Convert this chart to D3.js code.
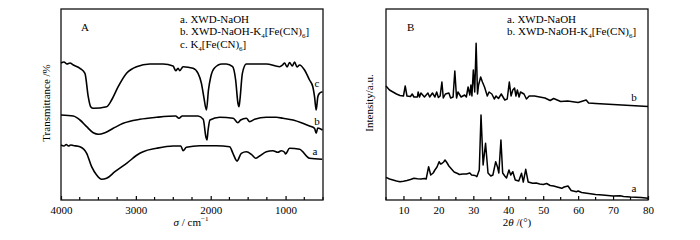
<!DOCTYPE html>
<html>
<head>
<meta charset="utf-8">
<script src="https://cdn.jsdelivr.net/npm/d3@7"></script>
<style>
  body { margin: 0; background: #fff; }
  svg { display: block; font-family: "Liberation Serif", "Times New Roman", serif; }
</style>
</head>
<body>
<svg id="chart" width="700" height="240"></svg>
<script>
// ---- Panel A: FTIR, wavenumber (cm-1) vs transmittance (offset, arbitrary) ----
const irWaveA = [4000, 3960, 3930, 3900, 3870, 3836, 3747, 3657, 3591, 3524, 3457, 3391, 3280, 3124, 2947, 2903, 2724, 2503, 2400, 2369, 2324, 2147, 1924, 1747, 1703, 1649, 1591, 1524, 1457, 1400, 1347, 1257, 1169, 1103, 1057, 1013, 1000, 947, 813, 680, 511];
const irValA  = [55, 54, 55.5, 54, 55, 54.5, 53.3, 46.7, 33.3, 25, 20.7, 21.7, 28.3, 36.7, 46.7, 48.3, 51.7, 54, 54, 49.3, 52.7, 54.3, 54.3, 53.3, 46.7, 39, 46.7, 48.3, 45.7, 41.7, 44, 48.3, 49.3, 47.7, 49.3, 47.7, 46, 51.7, 50.7, 41.7, 40.7];

const irWaveB = [4000, 3836, 3747, 3657, 3569, 3500, 3413, 3302, 3169, 2947, 2724, 2469, 2424, 2380, 2169, 2100, 2065, 2050, 2035, 2010, 1880, 1700, 1636, 1600, 1524, 1480, 1413, 1257, 1124, 1035, 900, 770, 680, 613, 591, 570, 507];
const irValB  = [85, 84, 80, 73.3, 67.3, 65.7, 67.3, 71.7, 76.7, 80.7, 82.7, 84, 81.7, 84, 84, 80.7, 63.3, 60, 70, 80, 82.7, 81.7, 77.3, 80, 81.7, 78.3, 80.7, 82.7, 82.7, 81.7, 80, 76.7, 74, 71.7, 66.7, 72, 70];

const irWaveC = [4000, 3960, 3920, 3880, 3836, 3747, 3680, 3636, 3604, 3569, 3391, 3324, 3236, 3124, 2991, 2813, 2636, 2503, 2467, 2436, 2413, 2369, 2236, 2169, 2124, 2093, 2057, 2030, 2000, 1950, 1850, 1791, 1707, 1667, 1636, 1623, 1610, 1577, 1524, 1257, 1080, 1040, 1013, 980, 947, 910, 880, 847, 813, 747, 680, 636, 613, 591, 569, 547, 507];
const irValC  = [137, 138, 136, 137, 135, 131.7, 126.7, 103.3, 93.3, 91.7, 93.3, 100, 113.3, 126.7, 133.3, 136, 136, 134, 129.3, 131.7, 129.3, 133.3, 131.7, 126.7, 116.7, 103.3, 90, 110, 123, 132, 136, 136, 133.3, 120, 96.7, 93.3, 100, 126.7, 136, 136, 133.3, 135, 137, 133, 137.5, 134, 138, 133, 135, 130, 120, 113.3, 103.3, 90, 103.3, 106.7, 108.3];

const irTicksMajor = [4000, 3000, 2000, 1000];
const irLegend = ["a", "b", "c"];

// ---- Panel B: XRD, 2theta (deg) vs intensity (offset, arbitrary) ----
const xrdAngleA = [5, 6, 7, 8, 9, 10, 11, 12, 13, 14, 15, 16, 16.5, 17.2, 17.8, 18.5, 19, 19.6, 20.2, 20.6, 21, 21.5, 21.9, 22.5, 23, 24, 24.5, 25.5, 26, 27, 28, 29, 29.5, 30.5, 31, 31.7, 32.2, 32.8, 33.5, 34.2, 35, 35.6, 36.4, 36.9, 37.3, 37.9, 38.4, 39, 39.5, 40.2, 40.7, 41.3, 42, 43, 43.8, 44.3, 45, 45.7, 47, 48, 49, 50, 51, 52, 53, 54, 55.3, 56, 57.1, 58, 59.5, 60, 61, 63, 65, 67, 70, 72, 73, 75, 78, 80];
const xrdValA   = [22.7, 21, 20, 19, 18.3, 18.8, 19.5, 20.5, 21.7, 21.2, 21, 21.5, 21, 33.3, 25, 27, 30, 33, 38.3, 36, 36.5, 38, 40, 37, 34, 30, 28, 26.5, 25.5, 26, 26, 27, 25, 24.5, 23.3, 30, 85, 35, 56.7, 27, 24, 25, 38.3, 33.3, 27, 60, 27, 24, 22, 30, 25, 28.3, 20, 19, 26.7, 18, 30.7, 18, 16.7, 17, 16, 15.5, 16.5, 14.5, 14, 13, 11.7, 13, 14, 9.5, 8.3, 9, 7.5, 6.5, 5.5, 5, 4, 4.3, 3.5, 3, 2.5, 1.7];

const xrdAngleB = [5, 6, 7, 8, 9, 10, 10.5, 11, 12, 12.5, 13, 14, 14.2, 14.6, 15, 16, 17, 17.5, 18.3, 19, 19.5, 20, 20.5, 21, 21.4, 22, 23, 23.5, 24.2, 24.7, 25.2, 25.6, 26.5, 27.5, 28, 28.5, 29, 29.3, 29.6, 30, 30.4, 30.8, 31.2, 31.5, 32.1, 32.6, 33.2, 34, 34.5, 35.3, 36, 36.5, 37.2, 38, 39, 39.7, 40.3, 40.8, 41.3, 41.8, 42.2, 42.6, 43.1, 43.5, 44.5, 45.2, 46, 47.5, 49, 50.5, 52, 53, 55, 57, 60, 62.3, 63, 65, 70, 75, 80];
const xrdValB   = [114, 110, 108, 106, 104.5, 104, 114, 104, 103.5, 106, 103, 103, 108, 103, 107, 103, 107, 103, 107, 103, 108, 102.5, 104, 118, 102, 106, 107, 102, 103, 129, 102, 108, 103, 105, 103, 113, 105, 115, 104, 130, 108, 156.7, 106, 115, 123, 118, 113, 104, 108, 106, 101, 104, 101.5, 106, 100, 101, 118, 104, 110, 112, 104, 110, 103, 108, 106, 101, 104, 104, 103, 102, 99.5, 101.5, 98.5, 99, 97.5, 100, 97, 96.5, 95.5, 94.5, 93.5];

const xrdTicksMajor = [10, 20, 30, 40, 50, 60, 70, 80];

// ---- layout ----
const svg = d3.select("#chart");
const plotTop = 9, plotBottom = 200;

const panelA = { left: 61, right: 323 };
const panelB = { left: 386, right: 648 };

const xA = d3.scaleLinear().domain([4000, 500]).range([panelA.left, panelA.right]);
const yA = d3.scaleLinear().domain([0, 191]).range([plotBottom, plotTop]);
const xB = d3.scaleLinear().domain([5, 80]).range([panelB.left, panelB.right]);
const yB = d3.scaleLinear().domain([0, 191]).range([plotBottom, plotTop]);

function drawFrame(p, x, major, minorStep) {
  const g = svg.append("g");
  const [d0, d1] = x.domain();
  const lo = Math.min(d0, d1), hi = Math.max(d0, d1);
  const minor = d3.range(Math.ceil(lo / minorStep) * minorStep, hi + 1e-9, minorStep)
    .filter(v => !major.includes(v));
  const axis = d3.axisBottom(x).tickValues(major).tickSize(-4).tickPadding(6).tickFormat(d3.format("d"));
  const ax = g.append("g").attr("transform", `translate(0,${plotBottom})`).call(axis);
  ax.select(".domain").remove();
  ax.selectAll("text").attr("font-size", 11).attr("font-family", "Liberation Serif").attr("fill", "#000");
  ax.selectAll("line").attr("stroke", "#000").attr("stroke-width", 1.2);
  g.append("g").selectAll("line").data(minor).join("line")
    .attr("x1", d => x(d)).attr("x2", d => x(d))
    .attr("y1", plotBottom).attr("y2", plotBottom - 3)
    .attr("stroke", "#000").attr("stroke-width", 1.2);
  g.append("rect")
    .attr("x", p.left).attr("y", plotTop)
    .attr("width", p.right - p.left).attr("height", plotBottom - plotTop)
    .attr("fill", "none").attr("stroke", "#111").attr("stroke-width", 1.3);
}

drawFrame(panelA, xA, irTicksMajor, 250);
drawFrame(panelB, xB, xrdTicksMajor, 5);

const lineA = d3.line().x(d => xA(d[0])).y(d => yA(d[1])).curve(d3.curveMonotoneX);
const lineB = d3.line().x(d => xB(d[0])).y(d => yB(d[1]));

const irSeries = [
  d3.zip(irWaveA, irValA),
  d3.zip(irWaveB, irValB),
  d3.zip(irWaveC, irValC)
];
svg.append("g").selectAll("path").data(irSeries).join("path")
  .attr("d", lineA).attr("fill", "none").attr("stroke", "#000").attr("stroke-width", 1.6)
  .attr("stroke-linejoin", "round");

const xrdSeries = [d3.zip(xrdAngleA, xrdValA), d3.zip(xrdAngleB, xrdValB)];
svg.append("g").selectAll("path").data(xrdSeries).join("path")
  .attr("d", lineB).attr("fill", "none").attr("stroke", "#000").attr("stroke-width", 1.5)
  .attr("stroke-linejoin", "round");

// ---- text ----
function txt(x, y, size, anchor) {
  return svg.append("text").attr("x", x).attr("y", y)
    .attr("font-size", size).attr("text-anchor", anchor || "start").attr("fill", "#000");
}
function fe(t, prefix) {
  t.append("tspan").text(prefix + "K");
  t.append("tspan").attr("font-size", 7).attr("dy", 3).text("4");
  t.append("tspan").attr("dy", -3).text("[Fe(CN)");
  t.append("tspan").attr("font-size", 7).attr("dy", 3).text("6");
  t.append("tspan").attr("dy", -3).text("]");
}

txt(81, 31, 11).text("A");
txt(180, 23, 11).text("a. XWD-NaOH");
fe(txt(180, 35, 11), "b. XWD-NaOH-");
fe(txt(180, 48, 11), "c. ");

txt(407, 31, 11).text("B");
txt(507, 23, 11).text("a. XWD-NaOH");
fe(txt(507, 35, 11), "b. XWD-NaOH-");

// curve labels
txt(317, 87, 11, "middle").text(irLegend[2]);
txt(317, 125, 11, "middle").text(irLegend[1]);
txt(315, 155, 11, "middle").text(irLegend[0]);
txt(634, 101, 11, "middle").text("b");
txt(634, 192, 11, "middle").text("a");

// axis titles
txt(0, 0, 11, "middle").attr("transform", "translate(50,103) rotate(-90)").text("Transmittance /%");
txt(0, 0, 11, "middle").attr("transform", "translate(373,103) rotate(-90)").text("Intensity/a.u.");

const tA = txt(191, 226, 11, "middle");
tA.append("tspan").attr("font-style", "italic").text("σ");
tA.append("tspan").text(" / cm");
tA.append("tspan").attr("font-size", 7).attr("dy", -5).text("−1");

const tB = txt(517, 226, 11, "middle");
tB.append("tspan").text("2");
tB.append("tspan").attr("font-style", "italic").text("θ");
tB.append("tspan").text(" /(°)");
</script>
</body>
</html>
